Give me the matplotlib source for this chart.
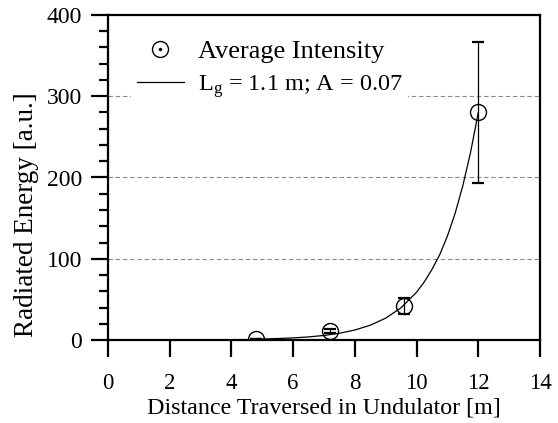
import matplotlib
matplotlib.use("Agg")
import matplotlib.pyplot as plt
from matplotlib.lines import Line2D
from matplotlib.ticker import MultipleLocator

plt.rcParams['font.family'] = ['Liberation Serif', 'DejaVu Serif']
plt.rcParams['mathtext.fontset'] = 'custom'
plt.rcParams['mathtext.rm'] = 'Liberation Serif'
plt.rcParams['mathtext.it'] = 'Liberation Serif:italic'

# measured data
dist = [4.8, 7.2, 9.6, 12.0]
energy = [1.0, 11.0, 42.0, 280.0]
err_lo = [0.0, 2.0, 10.0, 87.0]
err_hi = [0.0, 2.0, 10.0, 87.0]

# fit curve
fit_x = [4.8, 5.5, 6.0, 6.5, 7.0, 7.5, 8.0, 8.5, 9.0, 9.5, 10.0, 10.25, 10.5, 10.75,
         11.0, 11.25, 11.5, 11.75, 12.0]
fit_y = [1.0, 1.8, 2.6, 3.8, 5.6, 8.3, 12.3, 18.2, 26.9, 39.8, 58.8, 71.5, 86.9, 105.0,
         128.0, 156.0, 190.0, 231.0, 280.0]

xticks = [0, 2, 4, 6, 8, 10, 12, 14]
yticks = [0, 100, 200, 300, 400]

fig = plt.figure(figsize=(5.58, 4.23), dpi=100)
ax = fig.add_axes([108/558, 83/423, 432/558, 325/423])

for yv in [100, 200, 300]:
    ax.axhline(yv, color='#8a8a8a', lw=0.8, ls=(0, (4, 2.5)), zorder=1)

ax.plot(fit_x, fit_y, color='black', lw=0.9, zorder=3)
ax.errorbar(dist, energy, yerr=[err_lo, err_hi], fmt='none', ecolor='black',
            elinewidth=0.9, capsize=4, capthick=1.6, zorder=4)
ax.plot(dist, energy, ls='none', marker='o', ms=11.5, mfc='none', mec='black',
        mew=1.0, zorder=5)

ax.set_xlim(0, 14)
ax.set_ylim(0, 400)
ax.set_xticks(xticks)
ax.set_yticks(yticks)
ax.yaxis.set_minor_locator(MultipleLocator(20))

for s in ax.spines.values():
    s.set_linewidth(1.6)

ax.tick_params(axis='x', which='major', direction='out', length=12, width=1.6,
               labelsize=16.5, pad=12, top=False)
ax.tick_params(axis='y', which='major', direction='out', length=12, width=1.6,
               labelsize=17, pad=6.5, right=False)
ax.tick_params(axis='y', which='minor', direction='out', length=6.5, width=1.6,
               right=False)

ax.set_xlabel('Distance Traversed in Undulator [m]', fontsize=17.3, labelpad=2)
ax.set_ylabel('Radiated Energy [a.u.]', fontsize=19.5)
ax.yaxis.set_label_coords(-0.160, 0.385)

h1 = (Line2D([], [], ls='none', marker='o', ms=11.5, mfc='none', mec='black', mew=1.0),
      Line2D([], [], ls='none', marker='o', ms=1.5, mfc='black', mec='black'))
h2 = Line2D([], [], color='black', lw=0.9)
leg = ax.legend([h1, h2], ['Average Intensity', 'L$_\\mathrm{g}$ = 1.1 m; A = 0.07'],
                loc='upper left', bbox_to_anchor=(0.054, 0.94), borderaxespad=0,
                borderpad=0.2, fontsize=19, handlelength=1.78, handletextpad=0.53,
                labelspacing=0.35, frameon=True, fancybox=False, framealpha=1,
                facecolor='white', edgecolor='none')
leg.get_texts()[1].set_fontsize(17.5)
leg.set_zorder(6)

fig.savefig('out.png', dpi=100)
